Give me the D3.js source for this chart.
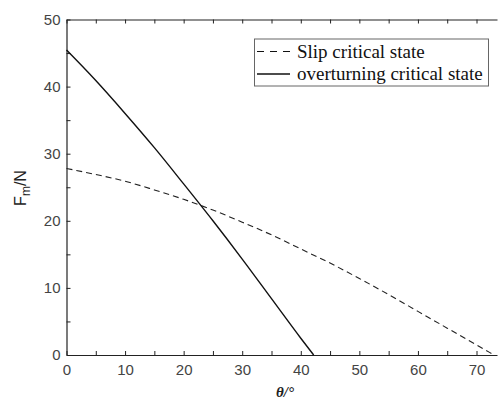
<!DOCTYPE html>
<html>
<head>
<meta charset="utf-8">
<script src="https://cdn.jsdelivr.net/npm/d3@7"></script>
<style>
  body { margin: 0; background: #fff; }
  svg { display: block; }
</style>
</head>
<body>
<div id="chart"></div>
<script>
// Angle (deg) and force (N)
var slipAngle = [0, 5, 10, 15, 20, 25, 30, 35, 40, 45, 50, 55, 60, 65, 70, 73];
var slipForce = [27.8, 26.9, 25.9, 24.6, 23.2, 21.6, 19.8, 17.9, 15.8, 13.7, 11.4, 9.0, 6.5, 4.0, 1.5, 0];

var overAngle = [0, 5, 10, 15, 20, 25, 30, 35, 40, 42.2];
var overForce = [45.45, 40.9, 36.0, 30.9, 25.5, 20.0, 14.3, 8.4, 2.5, 0];

var xTicks = [0, 10, 20, 30, 40, 50, 60, 70];
var yTicks = [0, 10, 20, 30, 40, 50];
var legendLabels = ["Slip critical state", "overturning critical state"];

(function() {
    var width = 498, height = 399;
    var mLeft = 66.5, mRight = 497, mTop = 19.5, mBottom = 355;
    var serif = "'Liberation Serif', 'DejaVu Serif', 'Times New Roman', serif";
    var sans = "'Liberation Sans', Arial, sans-serif";

    var svg = d3.select("#chart")
                .append("svg")
                .attr("width", width)
                .attr("height", height);

    var xScale = d3.scaleLinear().domain([0, 73.5]).range([mLeft, mRight]);
    var yScale = d3.scaleLinear().domain([0, 50]).range([mBottom, mTop]);

    // minor ticks every 5
    var xMinor = d3.range(0, 75, 5);
    var yMinor = d3.range(0, 55, 5);

    // bottom axis
    var xAxis = svg.append("g")
       .attr("transform", "translate(0," + mBottom + ")")
       .call(d3.axisBottom(xScale).tickValues(xMinor).tickSizeInner(-4).tickSizeOuter(0)
             .tickFormat(function(d) { return xTicks.indexOf(d) >= 0 ? d : ""; }));
    xAxis.selectAll("text").attr("y", 9);

    // top axis (ticks only)
    svg.append("g")
       .attr("transform", "translate(0," + mTop + ")")
       .call(d3.axisTop(xScale).tickValues(xMinor).tickSizeInner(-4).tickSizeOuter(0).tickFormat(""));

    // left axis
    var yAxis = svg.append("g")
       .attr("transform", "translate(" + mLeft + ",0)")
       .call(d3.axisLeft(yScale).tickValues(yMinor).tickSizeInner(-4).tickSizeOuter(0)
             .tickFormat(function(d) { return yTicks.indexOf(d) >= 0 ? d : ""; }));
    yAxis.selectAll("text").attr("x", -6);

    svg.selectAll(".domain").attr("stroke", "#222").attr("stroke-width", 1.2);
    svg.selectAll(".tick line").attr("stroke", "#222");
    svg.selectAll(".tick text")
       .style("font-family", sans)
       .style("font-size", "15px")
       .attr("fill", "#444");

    // lines
    var line = d3.line()
        .x(function(d) { return xScale(d[0]); })
        .y(function(d) { return yScale(d[1]); })
        .curve(d3.curveMonotoneX);

    var slipData = slipAngle.map(function(a, i) { return [a, slipForce[i]]; });
    var overData = overAngle.map(function(a, i) { return [a, overForce[i]]; });

    svg.append("path")
       .datum(slipData)
       .attr("d", line)
       .attr("fill", "none")
       .attr("stroke", "#222")
       .attr("stroke-width", 1.1)
       .attr("stroke-dasharray", "6,4");

    svg.append("path")
       .datum(overData)
       .attr("d", line)
       .attr("fill", "none")
       .attr("stroke", "#111")
       .attr("stroke-width", 1.4);

    // legend
    var legend = svg.append("g");
    legend.append("rect")
          .attr("x", 254.5).attr("y", 39)
          .attr("width", 234).attr("height", 47)
          .attr("fill", "#fff")
          .attr("stroke", "#666")
          .attr("stroke-width", 1);

    legendLabels.forEach(function(label, i) {
        var ly = 51.5 + i * 22.5;
        legend.append("line")
              .attr("x1", 257).attr("x2", 290)
              .attr("y1", ly).attr("y2", ly)
              .attr("stroke", "#111")
              .attr("stroke-width", i === 0 ? 1.1 : 1.3)
              .attr("stroke-dasharray", i === 0 ? "7,6" : null);
        legend.append("text")
              .style("font-family", serif)
              .style("font-size", "19px")
              .attr("x", 297)
              .attr("y", ly + 6)
              .attr("fill", "#111")
              .text(label);
    });

    // axis titles
    svg.append("text")
       .style("font-family", serif)
       .style("font-size", "15px")
       .style("font-weight", "bold")
       .style("font-style", "italic")
       .attr("x", 285)
       .attr("y", 397)
       .attr("text-anchor", "middle")
       .attr("fill", "#222")
       .text("θ/°");

    var yTitle = svg.append("text")
       .style("font-family", sans)
       .style("font-size", "16px")
       .attr("transform", "translate(26,188) rotate(-90)")
       .attr("text-anchor", "middle")
       .attr("fill", "#222");
    yTitle.append("tspan").text("F");
    yTitle.append("tspan").attr("dy", 4).style("font-size", "12px").text("m");
    yTitle.append("tspan").attr("dy", -4).text("/N");
})();
</script>
</body>
</html>
